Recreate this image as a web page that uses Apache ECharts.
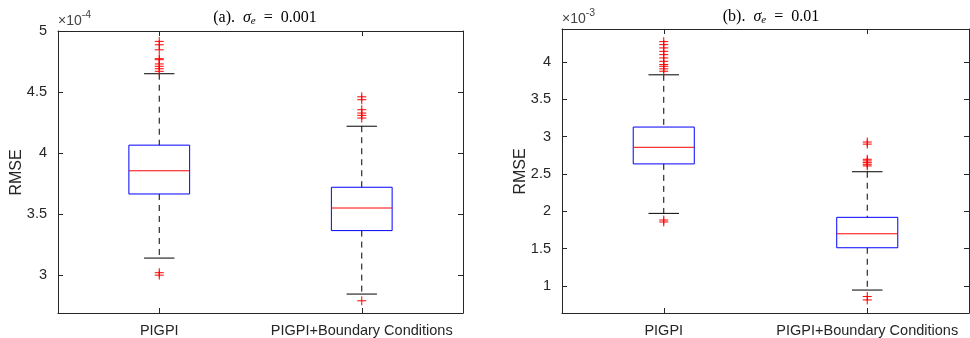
<!DOCTYPE html>
<html>
<head>
<meta charset="utf-8">
<script src="https://cdn.jsdelivr.net/npm/echarts@6/dist/echarts.min.js"></script>
<style>html,body{margin:0;padding:0;background:#fff}#main{width:970px;height:338px}</style>
</head>
<body>
<div id="main"></div>
<script>
// categories on both panels
var categories = ['PIGPI', 'PIGPI+Boundary Conditions'];

// (a) sigma_e = 0.001, values in units of 1e-4
// each box: [lower whisker, q1, median, q3, upper whisker]
var boxA = [
  [3.14, 3.665, 3.855, 4.065, 4.65],
  [2.845, 3.365, 3.55, 3.72, 4.22]
];
var outA0 = [4.915, 4.887, 4.846, 4.773, 4.765, 4.73, 4.711, 4.691, 4.67, 3.02, 3.0];
var outA1 = [4.461, 4.437, 4.355, 4.328, 4.309, 4.287, 2.79];

// (b) sigma_e = 0.01, values in units of 1e-3
var boxB = [
  [1.973, 2.635, 2.857, 3.128, 3.827],
  [0.947, 1.513, 1.70, 1.92, 2.53]
];
var outB0 = [4.271, 4.231, 4.187, 4.141, 4.097, 4.053, 4.008, 3.964, 3.941, 3.907, 3.875, 1.884, 1.858];
var outB1 = [2.928, 2.9, 2.697, 2.675, 2.652, 2.63, 2.608, 0.86, 0.815];

var FONT = 'Liberation Sans';
var AXC = '#262626';

function boxData(boxes) {
  var res = [];
  for (var i = 0; i < boxes.length; i++) res.push([i].concat(boxes[i]));
  return res;
}
function outData(list0, list1) {
  var res = [];
  list0.forEach(function (v) { res.push([0, v]); });
  list1.forEach(function (v) { res.push([1, v]); });
  return res;
}

// MATLAB style box: dashed black whiskers, black caps, blue box, red median
function renderBox(params, api) {
  var x = api.value(0);
  var lo = api.coord([x, api.value(1)]);
  var q1 = api.coord([x, api.value(2)]);
  var md = api.coord([x, api.value(3)]);
  var q3 = api.coord([x, api.value(4)]);
  var hi = api.coord([x, api.value(5)]);
  var band = api.size([1, 0])[0];
  var bw = band * 0.3, cw = bw / 2;
  var cx = lo[0];
  var dash = {stroke: '#000', lineWidth: 1, lineDash: [6, 5]};
  var solid = {stroke: '#000', lineWidth: 1};
  return {
    type: 'group',
    children: [
      {type: 'line', shape: {x1: cx, y1: hi[1], x2: cx, y2: q3[1]}, style: dash},
      {type: 'line', shape: {x1: cx, y1: q1[1], x2: cx, y2: lo[1]}, style: dash},
      {type: 'line', shape: {x1: cx - cw / 2, y1: hi[1], x2: cx + cw / 2, y2: hi[1]}, style: solid},
      {type: 'line', shape: {x1: cx - cw / 2, y1: lo[1], x2: cx + cw / 2, y2: lo[1]}, style: solid},
      {type: 'rect', shape: {x: cx - bw / 2, y: q3[1], width: bw, height: q1[1] - q3[1]},
        style: {fill: 'none', stroke: '#0000ff', lineWidth: 1}},
      {type: 'line', shape: {x1: cx - bw / 2, y1: md[1], x2: cx + bw / 2, y2: md[1]},
        style: {stroke: '#ff0000', lineWidth: 1}}
    ]
  };
}

// red "+" outlier marker
function renderPlus(params, api) {
  var p = api.coord([api.value(0), api.value(1)]);
  var h = 4.5;
  var st = {stroke: '#ff0000', lineWidth: 1};
  return {
    type: 'group',
    children: [
      {type: 'line', shape: {x1: p[0] - h, y1: p[1], x2: p[0] + h, y2: p[1]}, style: st},
      {type: 'line', shape: {x1: p[0], y1: p[1] - h, x2: p[0], y2: p[1] + h}, style: st}
    ]
  };
}

function yLabel(v) {
  if (Math.abs(v * 2 - Math.round(v * 2)) > 1e-6) return '';
  return String(+v.toFixed(1));
}

function makeY(gi, min, max, pos, exp) {
  var ax = {
    type: 'value', gridIndex: gi, position: pos, min: min, max: max,
    minInterval: 0.5, maxInterval: 0.5,
    axisLine: {show: true, lineStyle: {color: AXC, width: 1}},
    axisTick: {show: true, inside: true, length: 5, lineStyle: {color: AXC}},
    axisLabel: {show: pos === 'left', formatter: yLabel, color: AXC, fontFamily: FONT, fontSize: 14.5, margin: 11},
    splitLine: {show: false}
  };
  if (exp) {
    ax.name = '{a|\u00d710}{b|' + exp + '}';
    ax.nameLocation = 'end';
    ax.nameGap = 3;
    ax.nameTextStyle = {
      align: 'left', verticalAlign: 'bottom',
      rich: {
        a: {fontFamily: FONT, fontSize: 14, color: '#444', verticalAlign: 'bottom'},
        b: {fontFamily: FONT, fontSize: 10.5, color: '#444', verticalAlign: 'top', padding: [0, 0, 7, 0]}
      }
    };
  }
  return ax;
}

function makeX(gi, pos) {
  return {
    type: 'category', gridIndex: gi, position: pos, data: categories,
    axisLine: {show: true, lineStyle: {color: AXC, width: 1}},
    axisTick: {show: true, inside: true, length: 5, alignWithLabel: true, lineStyle: {color: AXC}},
    axisLabel: {show: pos === 'bottom', interval: 0, color: AXC, fontFamily: FONT, fontSize: 14.5, margin: 10},
    splitLine: {show: false}
  };
}

var titleRich = {
  i: {fontFamily: 'Liberation Serif', fontStyle: 'italic', fontSize: 16, color: '#000'},
  s: {fontFamily: 'Liberation Serif', fontStyle: 'italic', fontSize: 11, color: '#000', padding: [7, 0, 0, 0]}
};

var myChart = echarts.init(document.getElementById('main'));
var option = {
  animation: false,
  title: [
    {text: '(a).  {i|\u03c3}{s|e}  =  0.001', left: 260, top: 4, textAlign: 'center',
      textStyle: {fontFamily: 'Liberation Serif', fontSize: 16, fontWeight: 'normal', color: '#000', rich: titleRich}},
    {text: '(b).  {i|\u03c3}{s|e}  =  0.01', left: 766, top: 3, textAlign: 'center',
      textStyle: {fontFamily: 'Liberation Serif', fontSize: 16, fontWeight: 'normal', color: '#000', rich: titleRich}}
  ],
  grid: [
    {left: 58, top: 31, width: 405, height: 283},
    {left: 562, top: 29, width: 407, height: 285}
  ],
  xAxis: [makeX(0, 'bottom'), makeX(0, 'top'), makeX(1, 'bottom'), makeX(1, 'top')],
  yAxis: [
    makeY(0, 2.69, 5.0, 'left', '-4'), makeY(0, 2.69, 5.0, 'right'),
    makeY(1, 0.64, 4.44, 'left', '-3'), makeY(1, 0.64, 4.44, 'right')
  ],
  graphic: [
    {type: 'text', x: 16.5, y: 172.5, rotation: Math.PI / 2,
      style: {text: 'RMSE', fontFamily: FONT, fontSize: 16, fill: AXC, align: 'center', verticalAlign: 'middle'}},
    {type: 'text', x: 520.5, y: 171.5, rotation: Math.PI / 2,
      style: {text: 'RMSE', fontFamily: FONT, fontSize: 16, fill: AXC, align: 'center', verticalAlign: 'middle'}}
  ],
  series: [
    {type: 'custom', xAxisIndex: 0, yAxisIndex: 0, renderItem: renderBox, data: boxData(boxA),
      encode: {x: 0, y: [1, 2, 3, 4, 5]}},
    {type: 'custom', xAxisIndex: 0, yAxisIndex: 0, renderItem: renderPlus, data: outData(outA0, outA1),
      encode: {x: 0, y: 1}},
    {type: 'custom', xAxisIndex: 2, yAxisIndex: 2, renderItem: renderBox, data: boxData(boxB),
      encode: {x: 0, y: [1, 2, 3, 4, 5]}},
    {type: 'custom', xAxisIndex: 2, yAxisIndex: 2, renderItem: renderPlus, data: outData(outB0, outB1),
      encode: {x: 0, y: 1}}
  ]
};
myChart.setOption(option);
</script>
</body>
</html>
